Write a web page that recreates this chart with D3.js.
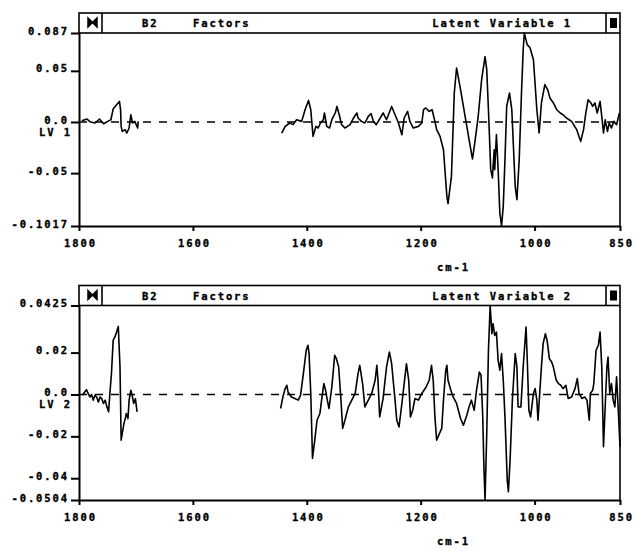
<!DOCTYPE html>
<meta charset="utf-8">
<style>
body { margin: 0; background: #fff; }
text {
    font-family: 'DejaVu Sans Mono', monospace;
    font-weight: bold;
    font-size: 10.5px;
    letter-spacing: 1.9px;
    fill: #000;
    stroke: #000;
    stroke-width: 0.35px;
}
.axis path, .axis line { stroke: #000; stroke-width: 2; }
.trace { fill: none; stroke: #000; stroke-width: 1.6; stroke-linejoin: round; }
.zero { stroke: #000; stroke-width: 1.5; stroke-dasharray: 8,8; }
.box { fill: none; stroke: #000; stroke-width: 1.6; }
</style>
<svg id="chart" width="637" height="552"></svg>
<script src="https://d3js.org/d3.v7.min.js"></script>
<script>

var xTicks = [1800, 1600, 1400, 1200, 1000, 850];

var lv1Ticks = [0.087, 0.05, 0.0, -0.05, -0.1017];
var lv1TickLabels = ["0.087", "0.05", "0.0", "-0.05", "-0.1017"];
var lv2Ticks = [0.0425, 0.02, 0.0, -0.02, -0.04, -0.0504];
var lv2TickLabels = ["0.0425", "0.02", "0.0", "-0.02", "-0.04", "-0.0504"];

// [wavenumber cm-1, loading]
var lv1Low = [[1795,0.0013],[1786,0.0029],[1781,0.0003],[1772,-0.0010],[1764,0.0029],[1757,-0.0017],
    [1747,0.0013],[1744,0.0022],[1740,0.0127],[1734,0.0169],[1729,0.0201],[1727,0.0120],[1726,-0.0043],
    [1724,-0.0092],[1719,-0.0075],[1716,-0.0108],[1712,-0.0059],[1709,0.0071],[1706,-0.0010],
    [1702,0.0006],[1697,-0.0059],[1696,0.0006]];

var lv1High = [[1444,-0.0108],[1438,-0.0043],[1430,-0.0010],[1424,-0.0026],[1418,0.0022],[1409,0.0006],
    [1403,0.0120],[1397,0.0211],[1393,0.0120],[1389,-0.0141],[1384,-0.0043],[1380,-0.0059],[1376,-0.0010],
    [1371,0.0022],[1369,0.0088],[1365,-0.0043],[1360,-0.0059],[1356,0.0022],[1350,0.0088],[1347,0.0152],
    [1343,0.0071],[1339,-0.0026],[1333,-0.0059],[1324,-0.0026],[1318,0.0039],[1312,0.0088],[1310,0.0039],
    [1304,0.0006],[1298,-0.0010],[1292,0.0055],[1287,0.0081],[1283,0.0006],[1278,-0.0026],[1271,0.0039],
    [1266,0.0088],[1260,0.0022],[1251,0.0152],[1245,0.0071],[1239,-0.0010],[1233,-0.0124],[1229,0.0039],
    [1223,0.0104],[1219,0.0006],[1213,-0.0059],[1204,-0.0043],[1198,-0.0010],[1195,0.0120],[1191,0.0137],
    [1185,0.0104],[1180,0.0120],[1175,0.0006],[1172,-0.0075],[1166,-0.0141],[1160,-0.0271],[1154,-0.0727],
    [1152,-0.0799],[1146,-0.0532],[1141,0.0283],[1137,0.0528],[1131,0.0348],[1125,0.0152],[1119,-0.0043],
    [1113,-0.0239],[1109,-0.0362],[1105,-0.0205],[1099,0.0055],[1093,0.0413],[1087,0.0638],[1084,0.0511],
    [1081,0.0120],[1077,-0.0466],[1074,-0.0547],[1071,-0.0271],[1070,-0.0466],[1067,-0.0124],[1064,-0.0466],
    [1061,-0.0890],[1058,-0.1017],[1055,-0.0825],[1052,-0.0369],[1049,0.0152],[1044,0.0283],[1040,0.0120],
    [1034,-0.0630],[1031,-0.0760],[1027,-0.0369],[1023,0.0283],[1020,0.0707],[1018,0.0870],[1013,0.0756],
    [1008,0.0726],[1002,0.0609],[996,0.0120],[992,-0.0108],[988,0.0186],[982,0.0365],[977,0.0316],
    [973,0.0235],[967,0.0186],[961,0.0120],[955,0.0088],[950,0.0071],[944,0.0039],[935,0.0006],
    [926,-0.0075],[919,-0.0190],[914,-0.0075],[910,0.0088],[906,0.0218],[901,0.0186],[898,0.0152],
    [894,0.0186],[890,0.0088],[885,0.0201],[882,0.0055],[879,-0.0108],[876,0.0022],[872,-0.0092],
    [869,-0.0010],[865,-0.0059],[861,0.0006],[856,-0.0026],[851,0.0088]];

var lv2Low = [[1794,-0.0004],[1790,0.0012],[1787,0.0023],[1784,0.0005],[1781,-0.0012],[1778,0.0000],
    [1775,-0.0027],[1772,-0.0004],[1769,-0.0012],[1766,-0.0036],[1763,-0.0012],[1760,-0.0020],
    [1757,-0.0043],[1754,-0.0027],[1751,-0.0059],[1748,-0.0083],[1746,-0.0004],[1743,0.0100],
    [1740,0.0259],[1737,0.0275],[1734,0.0298],[1731,0.0325],[1728,0.0131],[1726,-0.0218],[1724,-0.0186],
    [1721,-0.0138],[1718,-0.0106],[1717,-0.0091],[1714,-0.0115],[1712,-0.0027],[1709,0.0020],
    [1706,-0.0012],[1704,-0.0043],[1701,-0.0020],[1698,-0.0083]];

var lv2High = [[1446,-0.0067],[1442,-0.0012],[1438,0.0028],[1435,0.0044],[1433,0.0012],[1427,-0.0012],
    [1421,-0.0019],[1415,-0.0027],[1411,-0.0004],[1406,0.0100],[1401,0.0211],[1398,0.0235],[1396,0.0195],
    [1393,0.0005],[1390,-0.0305],[1386,-0.0218],[1382,-0.0123],[1377,-0.0091],[1374,-0.0027],[1370,0.0052],
    [1367,0.0020],[1364,-0.0027],[1361,-0.0067],[1356,0.0036],[1351,0.0187],[1348,0.0171],[1344,0.0131],
    [1340,-0.0027],[1337,-0.0162],[1333,-0.0123],[1327,-0.0059],[1321,-0.0027],[1315,0.0005],[1310,0.0100],
    [1307,0.0139],[1302,0.0052],[1298,-0.0059],[1292,-0.0027],[1286,0.0005],[1280,0.0068],[1277,0.0139],
    [1275,0.0068],[1272,-0.0107],[1266,-0.0019],[1260,0.0131],[1255,0.0203],[1251,0.0147],[1245,-0.0027],
    [1242,-0.0123],[1238,-0.0155],[1233,-0.0043],[1229,0.0052],[1225,0.0147],[1221,0.0068],[1218,-0.0107],
    [1214,-0.0075],[1210,-0.0019],[1204,-0.0027],[1198,0.0005],[1191,0.0033],[1185,0.0068],[1181,0.0139],
    [1178,0.0068],[1175,-0.0107],[1172,-0.0218],[1167,-0.0186],[1163,-0.0162],[1160,-0.0027],[1156,0.0116],
    [1154,0.0139],[1152,0.0068],[1147,0.0020],[1143,-0.0012],[1137,-0.0043],[1130,-0.0115],[1125,-0.0147],
    [1119,-0.0099],[1115,-0.0059],[1111,-0.0027],[1106,-0.0075],[1102,0.0020],[1097,0.0107],[1094,0.0092],
    [1091,-0.0107],[1089,-0.0345],[1087,-0.0504],[1084,-0.0186],[1081,0.0211],[1078,0.0425],[1075,0.0290],
    [1073,0.0338],[1070,0.0282],[1067,0.0298],[1064,0.0163],[1061,0.0116],[1058,0.0195],[1055,0.0068],
    [1052,-0.0107],[1048,-0.0409],[1046,-0.0464],[1043,-0.0313],[1039,-0.0027],[1034,0.0195],[1031,0.0131],
    [1029,-0.0059],[1024,-0.0059],[1020,0.0131],[1015,0.0322],[1013,0.0179],[1010,-0.0075],[1007,-0.0107],
    [1002,0.0005],[999,0.0028],[996,-0.0027],[994,-0.0123],[991,0.0005],[988,0.0131],[985,0.0243],
    [981,0.0290],[978,0.0258],[974,0.0171],[970,0.0155],[967,0.0131],[962,0.0068],[958,0.0052],[954,0.0044],
    [950,0.0028],[945,0.0044],[941,-0.0019],[935,-0.0012],[929,0.0028],[925,0.0076],[922,0.0005],
    [917,-0.0019],[912,-0.0012],[908,-0.0027],[904,-0.0123],[902,0.0005],[898,0.0020],[896,0.0052],
    [892,0.0211],[888,0.0235],[885,0.0298],[882,0.0131],[879,-0.0250],[876,-0.0059],[873,0.0131],
    [871,0.0179],[868,0.0005],[865,0.0052],[862,-0.0027],[859,-0.0059],[856,0.0084],[853,-0.0075],[850,-0.0250]];

var svg = d3.select("#chart");
var left = 79, right = 620;

var x = d3.scaleLinear().domain([1800, 850]).range([left, right]);

function drawPanel(p) {
    var y = d3.scaleLinear().domain([p.ticks[p.ticks.length - 1], p.ticks[0]]).range([p.bottom, p.top]);
    var g = svg.append("g");

    // dashed zero line
    g.append("line").attr("class", "zero")
        .attr("x1", left).attr("x2", right)
        .attr("y1", y(0)).attr("y2", y(0));

    var line = d3.line().x(function(d) { return x(d[0]); }).y(function(d) { return y(d[1]); });
    p.segments.forEach(function(seg) {
        g.append("path").attr("class", "trace").attr("d", line(seg));
    });

    // header bar
    var hTop = p.top - 20;
    g.append("rect").attr("class", "box")
        .attr("x", left).attr("y", hTop).attr("width", right - left).attr("height", 20)
        .attr("fill", "#fff");
    g.append("line").attr("class", "box").attr("x1", 102).attr("x2", 102).attr("y1", hTop).attr("y2", p.top);
    g.append("line").attr("class", "box").attr("x1", 606).attr("x2", 606).attr("y1", hTop).attr("y2", p.top);
    g.append("path")
        .attr("d", "M88," + (hTop + 5) + "V" + (hTop + 14) + "L92.5," + (hTop + 9.5) + "Z" +
                   "M97," + (hTop + 5) + "V" + (hTop + 14) + "L92.5," + (hTop + 9.5) + "Z")
        .attr("fill", "#000").attr("stroke", "#000").attr("stroke-width", 1.5);
    g.append("rect").attr("x", 610).attr("y", hTop + 5).attr("width", 7).attr("height", 10).attr("fill", "#000");
    g.append("text").attr("x", 142).attr("y", hTop + 14).text("B2");
    g.append("text").attr("x", 193).attr("y", hTop + 14).text("Factors");
    g.append("text").attr("x", 572).attr("y", hTop + 14).attr("text-anchor", "end").text(p.title);

    // right edge
    g.append("line").attr("class", "box").attr("x1", right).attr("x2", right).attr("y1", p.top).attr("y2", p.bottom)
        .attr("stroke-width", 2);

    g.append("g").attr("class", "axis")
        .attr("transform", "translate(" + left + ",0)")
        .call(d3.axisLeft(y).tickValues(p.ticks).tickSize(8).tickSizeOuter(0).tickPadding(2)
            .tickFormat(function(d, i) { return p.labels[i]; }))
        .call(function(a) { a.selectAll("text").attr("dy", "0.1em"); });

    g.append("g").attr("class", "axis")
        .attr("transform", "translate(0," + p.bottom + ")")
        .call(d3.axisBottom(x).tickValues(xTicks).tickSize(5).tickSizeOuter(0).tickPadding(9)
            .tickFormat(d3.format("d")))
        .call(function(a) { a.selectAll("text").attr("dx", "0.1em"); });

    g.append("text").attr("x", 72).attr("y", y(0) + 14).attr("text-anchor", "end").text(p.lv);
    g.append("text").attr("x", 437).attr("y", p.bottom + 45).text("cm-1");

    svg.selectAll(".axis text").style("font-size", "10.5px").style("font-family", null);
}

drawPanel({ top: 33, bottom: 226, ticks: lv1Ticks, labels: lv1TickLabels,
    title: "Latent Variable 1", lv: "LV 1", segments: [lv1Low, lv1High] });
drawPanel({ top: 305.5, bottom: 500, ticks: lv2Ticks, labels: lv2TickLabels,
    title: "Latent Variable 2", lv: "LV 2", segments: [lv2Low, lv2High] });

</script>
